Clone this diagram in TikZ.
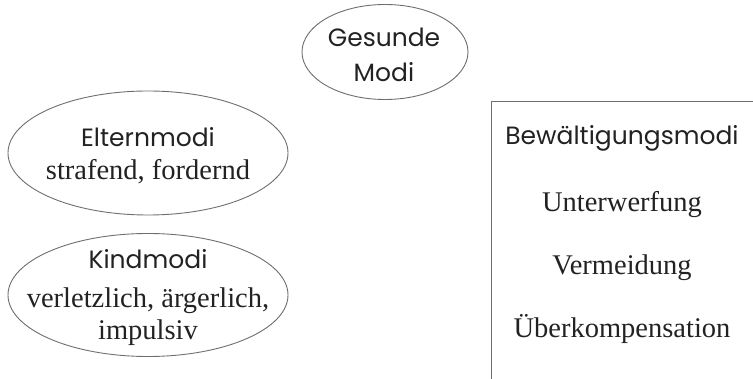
\documentclass[tikz,border=0pt]{standalone}
\usepackage{fontspec}
\setmainfont{Liberation Serif}
\newfontfamily\modifont{Poppins}
\usetikzlibrary{shapes.geometric,positioning}
\definecolor{inkgray}{HTML}{222222}
\definecolor{linegray}{HTML}{6E6E6E}
\tikzset{
  modus/.style={
    draw=linegray,
    ellipse,
    line width=0.9pt,
    inner sep=0pt
  },
  heading/.style={anchor=base, inner sep=0pt, text=inkgray, font=\modifont\fontsize{25}{30}\selectfont},
  detail/.style={anchor=base, inner sep=0pt, text=inkgray, font=\fontsize{28.5}{32}\selectfont},
  frame/.style={draw=linegray, line width=0.9pt}
}

\begin{document}
\begin{tikzpicture}[x=1pt, y=-1pt]
  \useasboundingbox (0,0) rectangle (753,379);
  % modes as ellipses
  \node[modus, minimum width=166pt, minimum height=95pt] (gesund) at (385,52) {};
  \node[modus, minimum width=280pt, minimum height=124pt] (eltern) at (148,153) {};
  \node[modus, minimum width=280pt, minimum height=123pt] (kind) at (148,295) {};
  \node[heading] (gesundtxt) at (384,47) {Gesunde};
  \node[heading] (gesundsub) at (384,82) {Modi};
  \node[heading] (elterntxt) at (148,147) {Elternmodi};
  \node[detail]  (elternsub) at (148,180) {strafend, fordernd};
  \node[heading] (kindtxt)   at (148,269) {Kindmodi};
  \node[detail]  (kindsubA)  at (148,308) {verletzlich, ärgerlich,};
  \node[detail]  (kindsubB)  at (148,340) {impulsiv};
  % coping modes, open frame
  \coordinate (framebot) at (491,385);
  \coordinate (framecor) at (491,101);
  \coordinate (frameend) at (760,101);
  \draw[frame] (framebot) -- (framecor) -- (frameend);
  \node[heading] (copetxt) at (622,145) {Bewältigungsmodi};
  \node[detail]  (copeA)   at (622,212) {Unterwerfung};
  \node[detail]  (copeB)   at (622,275) {Vermeidung};
  \node[detail]  (copeC)   at (622,338) {Überkompensation};
\end{tikzpicture}
\end{document}
